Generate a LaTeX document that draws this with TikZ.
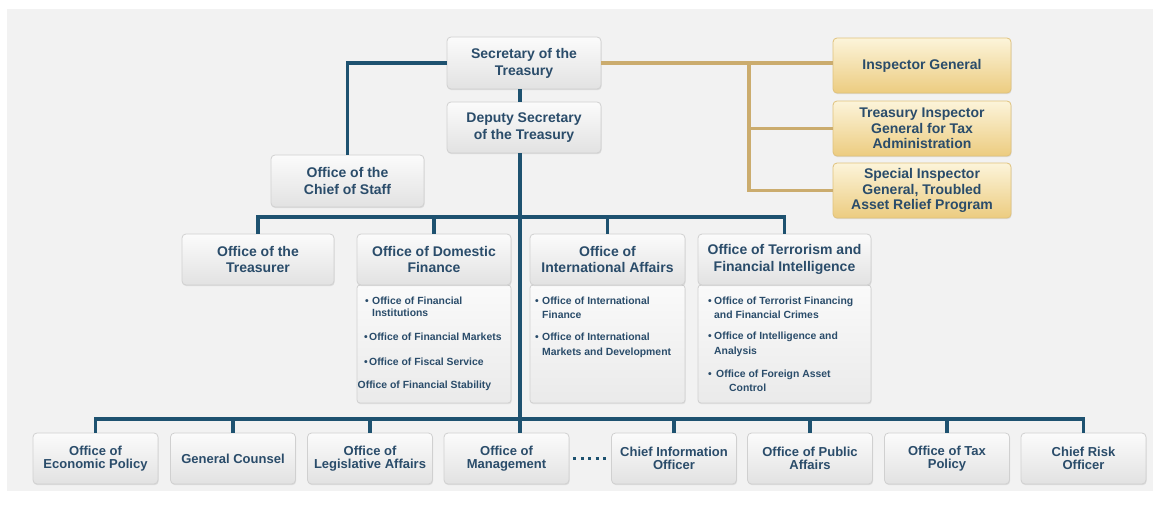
\documentclass[tikz,border=0pt]{standalone}
\usepackage{fontspec}
\setmainfont{Liberation Sans}
\usetikzlibrary{shadows}

\definecolor{linkblue}{RGB}{30,82,112}
\definecolor{inkblue}{RGB}{42,76,106}
\definecolor{linkgold}{RGB}{203,172,110}
\definecolor{panel}{RGB}{242,242,242}
\definecolor{boxedge}{RGB}{208,208,208}
\definecolor{boxtop}{RGB}{251,251,251}
\definecolor{boxbot}{RGB}{226,226,226}
\definecolor{listtop}{RGB}{250,250,250}
\definecolor{listbot}{RGB}{234,234,234}
\definecolor{goldtop}{RGB}{252,244,218}
\definecolor{goldbot}{RGB}{236,204,128}
\definecolor{goldedge}{RGB}{224,194,124}

% bullet with a fixed advance before the item text
\newcommand{\lbul}[1]{\makebox[#1][l]{•}}

\begin{document}
\begin{tikzpicture}[x=1pt,y=-1pt,
  orgbox/.style={draw=boxedge, line width=0.8pt, rounded corners=4pt,
    top color=boxtop, bottom color=boxbot, inner sep=0pt, align=center,
    text=inkblue, drop shadow={shadow xshift=0.6pt, shadow yshift=-1.2pt, opacity=0.18}},
  bigbox/.style={orgbox, font=\fontsize{14}{16.8}\selectfont\bfseries},
  smallbox/.style={orgbox, minimum width=125pt, minimum height=51pt,
    font=\fontsize{13}{13.4}\selectfont\bfseries},
  goldbox/.style={orgbox, draw=goldedge, top color=goldtop, bottom color=goldbot,
    minimum width=178pt, minimum height=55pt,
    font=\fontsize{14}{15.6}\selectfont\bfseries},
  listbox/.style={draw=boxedge, line width=0.8pt, rounded corners=3pt,
    top color=listtop, bottom color=listbot, inner sep=0pt,
    drop shadow={shadow xshift=0.6pt, shadow yshift=-1.2pt, opacity=0.15}},
  li/.style={anchor=base west, inner sep=0pt, text=inkblue,
    font=\fontsize{10.4}{12}\selectfont\bfseries},
  bl/.style={draw=linkblue, line width=3.5pt},
  gl/.style={draw=linkgold, line width=3.2pt},
  dotsline/.style={draw=linkblue, line width=3.2pt, dash pattern=on 3pt off 4.4pt}
]
\useasboundingbox (0,0) rectangle (1160,509);
\fill[white] (0,0) rectangle (1160,509);
\fill[panel] (7,9) rectangle (1153,491);

% junctions of the blue trunk and the gold branch
\coordinate (bus2) at (520,217);
\coordinate (bus3) at (520,419);
\coordinate (gj) at (749,62);

% ---- top level
\node[bigbox, minimum width=154pt, minimum height=52pt] (sec) at (524,63) {Secretary of the\\Treasury};
\node[bigbox, minimum width=154pt, minimum height=51pt] (dep) at (524,127.5) {Deputy Secretary\\of the Treasury};
\node[bigbox, minimum width=153pt, minimum height=52pt] (cos) at (347.5,181) {Office of the\\Chief of Staff};

% ---- inspectors general
\node[goldbox] (ig)  at (922,65.5)  {Inspector General};
\node[goldbox] (tig) at (922,128.5) {Treasury Inspector\\General for Tax\\Administration};
\node[goldbox] (sig) at (922,190.5) {Special Inspector\\General, Troubled\\Asset Relief Program};

% ---- second level: lists under the headers
\node[listbox, minimum width=154pt, minimum height=118pt] (doml) at (434,344) {};
\node[listbox, minimum width=155pt, minimum height=118pt] (intl) at (607.5,344) {};
\node[listbox, minimum width=173pt, minimum height=118pt] (terl) at (784.5,344) {};

\node[bigbox, minimum width=152pt, minimum height=51pt] (tre) at (258,259.5) {Office of the\\Treasurer};
\node[bigbox, minimum width=154pt, minimum height=51pt] (dom) at (434,259.5) {Office of Domestic\\Finance};
\node[bigbox, minimum width=155pt, minimum height=51pt] (int) at (607.5,259.5) {Office of\\International Affairs};
\node[bigbox, minimum width=173pt, minimum height=51pt] (ter) at (784.5,259.5) {Office of Terrorism and\\Financial Intelligence};

% Domestic Finance offices
\node[li] (d1) at (365,304.2) {\lbul{7pt}Office of Financial};
\node[li] (d2) at (372,316.8) {Institutions};
\node[li] (d3) at (364,340.8) {\lbul{5pt}Office of Financial Markets};
\node[li] (d4) at (364,365.2) {\lbul{5pt}Office of Fiscal Service};
\node[li] (d5) at (357.5,388.5) {Office of Financial Stability};

% International Affairs offices
\node[li] (i1) at (535,304.2) {\lbul{7pt}Office of International};
\node[li] (i2) at (542,318.5) {Finance};
\node[li] (i3) at (535,340.8) {\lbul{7pt}Office of International};
\node[li] (i4) at (542,355.2) {Markets and Development};

% Terrorism and Financial Intelligence offices
\node[li] (t1) at (708,304.2) {\lbul{6pt}Office of Terrorist Financing};
\node[li] (t2) at (714,318.5) {and Financial Crimes};
\node[li] (t3) at (708,339.2) {\lbul{6pt}Office of Intelligence and};
\node[li] (t4) at (714,354.2) {Analysis};
\node[li] (t5) at (708,377.5) {\lbul{8pt}Office of Foreign Asset};
\node[li] (t6) at (729,391.5) {Control};

% ---- bottom row
\node[smallbox] (eco) at (95.5,458.5)  {Office of\\Economic Policy};
\node[smallbox] (gc)  at (233,458.5)   {General Counsel};
\node[smallbox] (leg) at (370,458.5)   {Office of\\Legislative Affairs};
\node[smallbox] (mgt) at (506.5,458.5) {Office of\\Management};
\node[smallbox] (cio) at (674,458.5)   {Chief Information\\Officer};
\node[smallbox] (pub) at (810,458.5)   {Office of Public\\Affairs};
\node[smallbox] (tax) at (947,458.5)   {Office of Tax\\Policy};
\node[smallbox] (cro) at (1083.5,458.5){Chief Risk\\Officer};

% ---- blue reporting lines
\draw[bl] (sec.south -| bus2) -- (dep.north -| bus2);
\draw[bl] (dep.south -| bus3) -- (bus3);
\draw[bl] (sec.west) -| (cos.north);
\draw[bl] (tre.north) |- (bus2) -| (ter.north);
\draw[bl] (dom.north) -- (dom.north |- bus2);
\draw[bl] (int.north) -- (int.north |- bus2);
\draw[bl] (eco.north) |- (bus3) -| (cro.north);
\foreach \b in {gc,leg,cio,pub,tax}
  \draw[bl] (\b.north) -- (\b.north |- bus3);
\draw[bl] (bus3) -- (bus3 |- mgt.north);
\draw[dotsline] ([xshift=4pt]mgt.east) -- ([xshift=-4pt]cio.west);

% ---- gold lines to the inspectors general
\draw[gl] (sec.east) -- (sec.east -| ig.west);
\draw[gl] (sec.east -| gj) |- (sig.west);
\draw[gl] (gj |- tig.west) -- (tig.west);
\end{tikzpicture}
\end{document}
